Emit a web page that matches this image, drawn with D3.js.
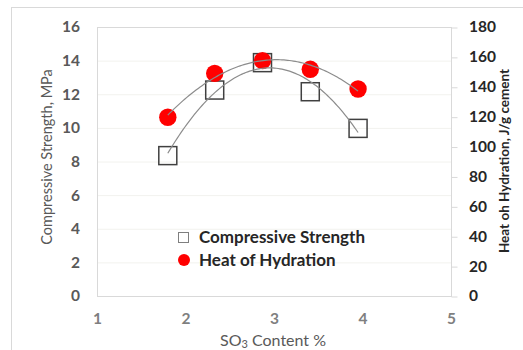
<!DOCTYPE html>
<html><head><meta charset="utf-8">
<script src="https://cdn.jsdelivr.net/npm/d3@7"></script>
<style>body{margin:0;background:#fff;}svg{display:block;}</style>
</head><body>
<svg id="c" width="523" height="350"></svg>
<script>
const so3 = [1.8, 2.33, 2.87, 3.41, 3.95];
const strength = [8.35, 12.25, 13.88, 12.15, 9.97];
const heat = [119.6, 149, 157.5, 151.7, 138.5];
const xTicks = [1, 2, 3, 4, 5];
const yLeftTicks = [0, 2, 4, 6, 8, 10, 12, 14, 16];
const yRightTicks = [0, 20, 40, 60, 80, 100, 120, 140, 160, 180];

const svg = d3.select("#c");
const L = 97, R = 451, T = 27, B = 296;
const x = d3.scaleLinear().domain([1, 5]).range([L, R]);
const yL = d3.scaleLinear().domain([0, 16]).range([B, T]);
const yR = d3.scaleLinear().domain([0, 180]).range([B, T]);
const font = "Lato, 'Open Sans', sans-serif";

// outer chart border
svg.append("rect").attr("x", 11.5).attr("y", 7.5).attr("width", 600).attr("height", 400)
  .attr("fill", "none").attr("stroke", "#d9d9d9");

// gridlines
svg.append("g").selectAll("line").data(yLeftTicks.filter(d => d > 0 && d < 16)).join("line")
  .attr("x1", L).attr("x2", R).attr("y1", d => yL(d) + 0.5).attr("y2", d => yL(d) + 0.5)
  .attr("stroke", "#f2f2ee");
// plot border
svg.append("rect").attr("x", L + 0.5).attr("y", T + 0.5).attr("width", R - L).attr("height", B - T)
  .attr("fill", "none").attr("stroke", "#d9d9d9");

// left axis
const gl = svg.append("g").attr("transform", `translate(${L},0)`)
  .call(d3.axisLeft(yL).tickValues(yLeftTicks).tickSize(0).tickPadding(17));
gl.select(".domain").remove();
gl.selectAll("text").attr("font-family", font).attr("font-size", 15.5).attr("font-weight", "bold").attr("fill", "#595959");

// right axis
const gr = svg.append("g").attr("transform", `translate(${R},0)`)
  .call(d3.axisRight(yR).tickValues(yRightTicks).tickSize(6).tickPadding(12));
gr.select(".domain").remove();
gr.selectAll("line").attr("stroke", "#d9d9d9").attr("transform", "translate(0.5,0.5)");
gr.selectAll("text").attr("font-family", font).attr("font-size", 15.5).attr("font-weight", "bold").attr("fill", "#262626");

// x axis
const gx = svg.append("g").attr("transform", `translate(0,${B})`)
  .call(d3.axisBottom(x).tickValues(xTicks).tickSize(0).tickPadding(17).tickFormat(d3.format("d")));
gx.select(".domain").remove();
gx.selectAll("text").attr("font-family", font).attr("font-size", 15.5).attr("font-weight", "bold").attr("fill", "#7f7f7f");

// titles
svg.append("text").attr("transform", `translate(52,157) rotate(-90)`).attr("text-anchor", "middle")
  .attr("font-family", font).attr("font-size", 14.5).attr("fill", "#595959").text("Compressive Strength, MPa");
svg.append("text").attr("transform", `translate(509,161) rotate(-90)`).attr("text-anchor", "middle")
  .attr("font-family", font).attr("font-size", 13.5).attr("font-weight", "bold").attr("fill", "#262626").text("Heat oh Hydration, J/g cement");
const xt = svg.append("text").attr("x", 273).attr("y", 346).attr("text-anchor", "middle")
  .attr("font-family", font).attr("font-size", 16).attr("fill", "#595959");
xt.append("tspan").text("SO");
xt.append("tspan").attr("font-size", 11).attr("dy", 2).text("3");
xt.append("tspan").attr("dy", -2).text(" Content %");

// quadratic least-squares fit
function quadFit(xs, ys) {
  const n = xs.length;
  let s = [0,0,0,0,0], t = [0,0,0];
  for (let i = 0; i < n; i++) {
    for (let k = 0; k < 5; k++) s[k] += Math.pow(xs[i], k);
    for (let k = 0; k < 3; k++) t[k] += ys[i] * Math.pow(xs[i], k);
  }
  const M = [[s[0], s[1], s[2], t[0]], [s[1], s[2], s[3], t[1]], [s[2], s[3], s[4], t[2]]];
  for (let i = 0; i < 3; i++) {
    for (let j = i + 1; j < 3; j++) {
      const f = M[j][i] / M[i][i];
      for (let k = i; k < 4; k++) M[j][k] -= f * M[i][k];
    }
  }
  const c = [0,0,0];
  for (let i = 2; i >= 0; i--) {
    let v = M[i][3];
    for (let k = i + 1; k < 3; k++) v -= M[i][k] * c[k];
    c[i] = v / M[i][i];
  }
  return xv => c[0] + c[1] * xv + c[2] * xv * xv;
}
const fS = quadFit(so3, strength), fH = quadFit(so3, heat);
const xs = d3.range(0, 101).map(i => so3[0] + (so3[so3.length - 1] - so3[0]) * i / 100);

// markers
svg.append("g").selectAll("rect").data(so3).join("rect")
  .attr("x", (d, i) => x(d) - 9).attr("y", (d, i) => yL(strength[i]) - 9)
  .attr("width", 18).attr("height", 18).attr("fill", "none").attr("stroke", "#404040").attr("stroke-width", 1.5);
svg.append("g").selectAll("circle").data(so3).join("circle")
  .attr("cx", d => x(d)).attr("cy", (d, i) => yR(heat[i])).attr("r", 8.7).attr("fill", "#ff0000");

// trendlines
const line = (f, y) => d3.line().x(d => x(d)).y(d => y(f(d)))(xs);
svg.append("path").attr("d", line(fS, yL)).attr("fill", "none").attr("stroke", "#8c8c8c").attr("stroke-width", 1.2);
svg.append("path").attr("d", line(fH, yR)).attr("fill", "none").attr("stroke", "#8c8c8c").attr("stroke-width", 1.2);

// legend
const lg = svg.append("g");
lg.append("rect").attr("x", 178.5).attr("y", 232.5).attr("width", 10).attr("height", 10).attr("fill", "none").attr("stroke", "#7f7f7f");
lg.append("text").attr("x", 199).attr("y", 243).attr("font-family", font).attr("font-size", 17).attr("font-weight", "bold").attr("fill", "#262626").text("Compressive Strength");
lg.append("circle").attr("cx", 184).attr("cy", 260).attr("r", 6).attr("fill", "#ff0000");
lg.append("text").attr("x", 199).attr("y", 265.5).attr("font-family", font).attr("font-size", 17).attr("font-weight", "bold").attr("fill", "#262626").text("Heat of Hydration");
</script>
</body></html>
